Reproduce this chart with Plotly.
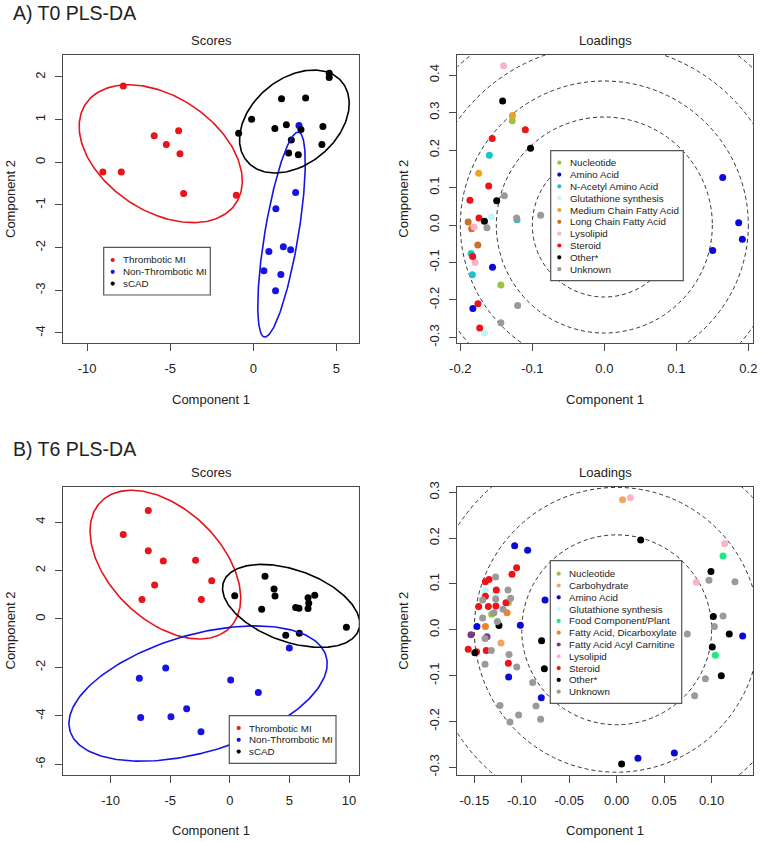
import numpy as np
import plotly.graph_objects as go

# ---------------- DATA ----------------
# Panel A (T0) scores
a_thr_x = [-7.82, -5.96, -4.49, -5.23, -4.41, -9.05, -7.94, -4.19, -1.02]
a_thr_y = [1.79, 0.62, 0.74, 0.42, 0.20, -0.23, -0.23, -0.73, -0.77]
a_non_x = [2.75, 2.55, 1.36, 0.94, 1.81, 2.25, 0.64, 1.66, 1.34]
a_non_y = [0.86, -0.71, -1.09, -2.09, -1.98, -2.05, -2.54, -2.63, -3.01]
a_scad_x = [4.57, 4.57, 1.70, 3.15, -0.10, -0.88, 1.30, 1.99, 2.87, 4.19, 2.29, 2.13, 2.71, 4.13]
a_scad_y = [2.09, 1.99, 1.49, 1.51, 1.01, 0.68, 0.79, 0.88, 0.77, 0.84, 0.52, 0.22, 0.18, 0.42]

# Panel B (T6) scores
b_thr_x = [-6.84, -8.94, -6.84, -5.58, -2.87, -1.52, -6.31, -7.37, -2.39]
b_thr_y = [4.48, 3.49, 2.82, 2.39, 2.42, 1.58, 1.40, 0.80, 0.80]
b_non_x = [4.99, -5.38, -7.59, 0.07, 2.39, -3.62, -7.48, -4.94, -2.42]
b_non_y = [-1.20, -2.02, -2.45, -2.52, -3.03, -3.71, -4.07, -4.04, -4.65]
b_scad_x = [2.95, 0.41, 3.71, 3.79, 2.67, 5.52, 5.80, 6.56, 6.62, 6.56, 7.12, 9.78, 4.69, 5.83]
b_scad_y = [1.76, 0.96, 1.24, 0.95, 0.40, 0.47, 0.44, 0.88, 0.65, 0.43, 0.98, -0.34, -0.67, -0.59]

group_names = ["Thrombotic MI", "Non-Thrombotic MI", "sCAD"]
group_colors = ["#E8141A", "#1414E6", "#000000"]

# Panel A (T0) loadings, by class
t0_nucleotide_x = [-0.1278, -0.1437]
t0_nucleotide_y = [0.278, -0.160]
t0_amino_x = [-0.1553, -0.1826, 0.1644, 0.1866, 0.1917, 0.1505]
t0_amino_y = [-0.113, -0.223, 0.127, 0.006, -0.038, -0.068]
t0_nacetyl_x = [-0.1597, -0.1213, -0.1850, -0.1833]
t0_nacetyl_y = [0.186, 0.014, -0.076, -0.133]
t0_gluta_x = [-0.1567, -0.1665]
t0_gluta_y = [0.022, -0.288]
t0_mcfa_x = [-0.1275, -0.1745]
t0_mcfa_y = [0.292, 0.138]
t0_lcfa_x = [-0.1891, -0.1843, -0.1757]
t0_lcfa_y = [0.008, -0.010, -0.053]
t0_lyso_x = [-0.1400, -0.1808, -0.1794]
t0_lyso_y = [0.425, -0.005, -0.100]
t0_steroid_x = [-0.1097, -0.1558, -0.1606, -0.1866, -0.1741, -0.1829, -0.1755, -0.1731]
t0_steroid_y = [0.254, 0.231, 0.104, 0.066, 0.019, -0.084, -0.210, -0.275]
t0_other_x = [-0.1412, -0.1025, -0.1495, -0.1665]
t0_other_y = [0.331, 0.205, 0.065, 0.010]
t0_unknown_x = [-0.1389, -0.0884, -0.1218, -0.1630, -0.1204, -0.1437]
t0_unknown_y = [0.078, 0.026, 0.019, -0.007, -0.215, -0.261]

# Panel B (T6) loadings, by class
t6_nucleotide_x = [-0.1141, -0.1317]
t6_nucleotide_y = [0.059, 0.034]
t6_carb_x = [0.0062, -0.1219]
t6_carb_y = [0.284, -0.029]
t6_amino_x = [-0.1075, -0.0938, -0.0755, -0.1015, -0.1472, -0.1138, -0.0794, 0.0224, 0.0607, 0.1327]
t6_amino_y = [0.1836, 0.1734, 0.065, 0.0097, 0.007, -0.103, -0.148, -0.280, -0.269, -0.0135]
t6_gluta_x = [-0.1383, -0.1274]
t6_gluta_y = [0.086, 0.081]
t6_food_x = [0.1120, 0.1039]
t6_food_y = [0.161, -0.0557]
t6_dicarb_x = [-0.1155, -0.1383]
t6_dicarb_y = [0.037, 0.007]
t6_acyl_x = [-0.1535, -0.1366]
t6_acyl_y = [-0.0106, -0.015]
t6_lyso_x = [0.0144, 0.1137, 0.0839]
t6_lyso_y = [0.288, 0.188, 0.1036]
t6_steroid_x = [-0.1054, -0.1103, -0.1345, -0.1383, -0.1268, -0.1383, -0.1166, -0.1272,
                -0.1352, -0.1454, -0.1564, -0.1476, -0.1374, -0.1141]
t6_steroid_y = [0.1356, 0.121, 0.110, 0.105, 0.087, 0.073, 0.059, 0.052,
                0.051, 0.051, -0.0425, -0.048, -0.045, -0.073]
t6_other_x = [0.0253, 0.0993, 0.1018, 0.1186, 0.1007, 0.1102, 0.0052, -0.1240, -0.0791, -0.0762, -0.1494]
t6_other_y = [0.196, 0.127, 0.029, -0.009, -0.0375, -0.100, -0.293, 0.0095, -0.024, -0.085, -0.050]
t6_unknown_x = [0.0972, 0.1246, 0.1120, 0.1028, 0.0744, 0.0934, 0.0821, -0.1275, -0.1145, -0.1117,
                -0.1275, -0.1412, -0.1197, -0.1293, -0.1412, -0.1257, -0.1387, -0.1321, -0.1387,
                -0.1134, -0.1053, -0.0885, -0.1229, -0.0850, -0.1033, -0.0801, -0.1124]
t6_unknown_y = [0.108, 0.105, 0.030, 0.007, -0.009, -0.1066, -0.1437, 0.115, 0.087, 0.069,
                0.067, 0.065, 0.045, 0.037, 0.026, 0.018, -0.019, -0.045, -0.075,
                -0.054, -0.081, -0.115, -0.165, -0.166, -0.186, -0.195, -0.201]

t0_circle_radii = [0.10, 0.15, 0.20, 0.25, 0.30]
t6_circle_radii = [0.10, 0.15, 0.20]

# tick labels
a_sc_xt = [-10, -5, 0, 5]
a_sc_yt = [-4, -3, -2, -1, 0, 1, 2]
a_ld_xt = [-0.2, -0.1, 0.0, 0.1, 0.2]
a_ld_yt = [-0.3, -0.2, -0.1, 0.0, 0.1, 0.2, 0.3, 0.4]
b_sc_xt = [-10, -5, 0, 5, 10]
b_sc_yt = [-6, -4, -2, 0, 2, 4]
b_ld_xt = [-0.15, -0.10, -0.05, 0.00, 0.05, 0.10]
b_ld_yt = [-0.3, -0.2, -0.1, 0.0, 0.1, 0.2, 0.3]

# ---------------- STYLE / LAYOUT ----------------
W, H = 762, 842
FONT = "Liberation Sans, Arial, sans-serif"
TXT = "#222222"
AXC = "#4a4a4a"

C = dict(nucleotide="#93C83E", carb="#F4A460", amino="#0A0AD8", nacetyl="#1EC4C8",
         gluta="#BFF6F6", food="#1EE882", mcfa="#EFA324", lcfa="#CC6E2A", dicarb="#EE8424",
         acyl="#7B3A88", lyso="#FAB4C4", steroid="#EC141A", other="#000000", unknown="#9A9A9A")

t0_classes = [
    ("Nucleotide", C["nucleotide"], t0_nucleotide_x, t0_nucleotide_y),
    ("Amino Acid", C["amino"], t0_amino_x, t0_amino_y),
    ("N-Acetyl Amino Acid", C["nacetyl"], t0_nacetyl_x, t0_nacetyl_y),
    ("Glutathione synthesis", C["gluta"], t0_gluta_x, t0_gluta_y),
    ("Medium Chain Fatty Acid", C["mcfa"], t0_mcfa_x, t0_mcfa_y),
    ("Long Chain Fatty Acid", C["lcfa"], t0_lcfa_x, t0_lcfa_y),
    ("Lysolipid", C["lyso"], t0_lyso_x, t0_lyso_y),
    ("Steroid", C["steroid"], t0_steroid_x, t0_steroid_y),
    ("Other*", C["other"], t0_other_x, t0_other_y),
    ("Unknown", C["unknown"], t0_unknown_x, t0_unknown_y),
]
t6_classes = [
    ("Nucleotide", C["nucleotide"], t6_nucleotide_x, t6_nucleotide_y),
    ("Carbohydrate", C["carb"], t6_carb_x, t6_carb_y),
    ("Amino Acid", C["amino"], t6_amino_x, t6_amino_y),
    ("Glutathione synthesis", C["gluta"], t6_gluta_x, t6_gluta_y),
    ("Food Component/Plant", C["food"], t6_food_x, t6_food_y),
    ("Fatty Acid, Dicarboxylate", C["dicarb"], t6_dicarb_x, t6_dicarb_y),
    ("Fatty Acid Acyl Carnitine", C["acyl"], t6_acyl_x, t6_acyl_y),
    ("Lysolipid", C["lyso"], t6_lyso_x, t6_lyso_y),
    ("Steroid", C["steroid"], t6_steroid_x, t6_steroid_y),
    ("Other*", C["other"], t6_other_x, t6_other_y),
    ("Unknown", C["unknown"], t6_unknown_x, t6_unknown_y),
]

# pixel boxes of each panel: (left, right, top, bottom)
BOX = {
    "A_sc": (63.3, 359.3, 55.0, 343.3),
    "A_ld": (457.3, 753.3, 55.0, 343.3),
    "B_sc": (63.3, 359.3, 486.7, 775.0),
    "B_ld": (457.3, 753.3, 486.7, 775.0),
}
RANGE = {
    "A_sc": ([-11.43, 6.38], [-4.242, 2.515]),
    "A_ld": ([-0.2042, 0.2069], [-0.3156, 0.4536]),
    "B_sc": ([-13.97, 10.86], [-6.44, 5.46]),
    "B_ld": ([-0.1679, 0.1439], [-0.3168, 0.3122]),
}
AX = {"A_sc": ("x", "y", ""), "A_ld": ("x2", "y2", "2"), "B_sc": ("x3", "y3", "3"), "B_ld": ("x4", "y4", "4")}


def px(xp):
    return xp / W


def py(yp):
    return 1 - yp / H


def fmt(v, d):
    return f"{v:.{d}f}"


fig = go.Figure()


def ellipse_xy(xs, ys, t, n=240):
    pts = np.column_stack([xs, ys])
    mu = pts.mean(axis=0)
    S = np.cov(pts.T)
    vals, vecs = np.linalg.eigh(S)
    th = np.linspace(0, 2 * np.pi, n)
    circ = np.vstack([np.cos(th), np.sin(th)])
    e = vecs @ (np.sqrt(vals)[:, None] * circ) * t + mu[:, None]
    return e[0], e[1]


def add_scores(key, groups, t):
    xa, ya, _ = AX[key]
    for (gx, gy), name, col in zip(groups, group_names, group_colors):
        fig.add_trace(go.Scatter(x=gx, y=gy, mode="markers", name=name, showlegend=False,
                                 marker=dict(color=col, size=7, line=dict(width=0)),
                                 xaxis=xa, yaxis=ya))
    for (gx, gy), name, col in zip(groups, group_names, group_colors):
        ex, ey = ellipse_xy(gx, gy, t)
        fig.add_trace(go.Scatter(x=ex, y=ey, mode="lines", showlegend=False, hoverinfo="skip",
                                 line=dict(color=col, width=1.6), xaxis=xa, yaxis=ya))


def add_loadings(key, classes):
    xa, ya, _ = AX[key]
    for name, col, lx, ly in classes:
        fig.add_trace(go.Scatter(x=lx, y=ly, mode="markers", name=name, showlegend=False,
                                 marker=dict(color=col, size=7, line=dict(width=0)),
                                 xaxis=xa, yaxis=ya))


add_scores("A_sc", [(a_thr_x, a_thr_y), (a_non_x, a_non_y), (a_scad_x, a_scad_y)], 2.0)
add_scores("B_sc", [(b_thr_x, b_thr_y), (b_non_x, b_non_y), (b_scad_x, b_scad_y)], 2.48)
add_loadings("A_ld", t0_classes)
add_loadings("B_ld", t6_classes)

shapes = []
annotations = []

# dashed circles (drawn round on screen, radius in x units)
for key, radii in (("A_ld", t0_circle_radii), ("B_ld", t6_circle_radii)):
    xa, ya, _ = AX[key]
    l, r, t_, b = BOX[key]
    xr = RANGE[key][0]
    ppu = (r - l) / (xr[1] - xr[0])
    for rad in radii:
        rp = rad * ppu
        shapes.append(dict(type="circle", xref=xa, yref=ya, layer="below",
                           x0=-rad, x1=rad, ysizemode="pixel", yanchor=0, y0=-rp, y1=rp,
                           line=dict(color="#333333", width=1, dash="4px,3px"),
                           fillcolor="rgba(0,0,0,0)"))


def add_legend(box, dot_x, text_x, y0, dy, items):
    l, r, t_, b = box
    shapes.append(dict(type="rect", xref="paper", yref="paper", layer="above",
                       x0=px(l), x1=px(r), y0=py(b), y1=py(t_),
                       line=dict(color="#555555", width=1.2), fillcolor="white"))
    for i, (name, col) in enumerate(items):
        yy = y0 + i * dy
        shapes.append(dict(type="circle", xref="paper", yref="paper", layer="above",
                           xsizemode="pixel", ysizemode="pixel",
                           xanchor=px(dot_x), yanchor=py(yy), x0=-2.1, x1=2.1, y0=-2.1, y1=2.1,
                           line=dict(width=0), fillcolor=col))
        annotations.append(dict(text=name, xref="paper", yref="paper", x=px(text_x), y=py(yy),
                                xanchor="left", yanchor="middle", showarrow=False,
                                font=dict(family=FONT, size=9.8, color=TXT)))


grp_items = list(zip(group_names, group_colors))
add_legend((103.7, 210.3, 247.3, 295.0), 112.7, 121.0, 260.0, 11.8, grp_items)
add_legend((229.3, 336.0, 715.7, 763.3), 238.7, 247.0, 728.0, 11.8, grp_items)
add_legend((550.7, 683.3, 150.7, 280.7), 559.3, 567.7, 162.7, 11.83, [(n, c) for n, c, _, _ in t0_classes])
add_legend((550.3, 681.7, 560.7, 703.3), 558.7, 567.0, 573.7, 11.8, [(n, c) for n, c, _, _ in t6_classes])


def ann(text, x, y, size, xanchor="center", angle=0):
    annotations.append(dict(text=text, xref="paper", yref="paper", x=px(x), y=py(y),
                            xanchor=xanchor, yanchor="middle", showarrow=False, textangle=angle,
                            font=dict(family=FONT, size=size, color=TXT)))


ann("A) T0 PLS-DA", 10.5, 13.0, 19.5, xanchor="left")
ann("B) T6 PLS-DA", 10.5, 449.5, 19.5, xanchor="left")
ann("Scores", 211.3, 40.5, 13)
ann("Loadings", 605.3, 40.5, 13)
ann("Scores", 211.3, 472.0, 13)
ann("Loadings", 605.3, 472.0, 13)
ann("Component 1", 211.3, 399.0, 13)
ann("Component 1", 605.3, 399.0, 13)
ann("Component 1", 211.3, 830.5, 13)
ann("Component 1", 605.3, 830.5, 13)
ann("Component 2", 10.0, 199.0, 13, angle=-90)
ann("Component 2", 402.7, 199.0, 13, angle=-90)
ann("Component 2", 9.5, 631.0, 13, angle=-90)
ann("Component 2", 402.7, 631.0, 13, angle=-90)

ticks = {
    "A_sc": (a_sc_xt, 0, a_sc_yt, 0),
    "A_ld": (a_ld_xt, 1, a_ld_yt, 1),
    "B_sc": (b_sc_xt, 0, b_sc_yt, 0),
    "B_ld": (b_ld_xt, 2, b_ld_yt, 1),
}

layout_axes = {}
for key, (xa, ya, sfx) in AX.items():
    l, r, t_, b = BOX[key]
    xr, yr = RANGE[key]
    xt, xd, yt, yd = ticks[key]
    common = dict(showline=True, mirror=True, linecolor=AXC, linewidth=1.1,
                  ticks="outside", ticklen=7, tickwidth=1, tickcolor=AXC,
                  showgrid=False, zeroline=False, automargin=False, fixedrange=True,
                  tickfont=dict(family=FONT, size=13, color=TXT))
    layout_axes["xaxis" + sfx] = dict(common, domain=[px(l), px(r)], range=xr,
                                      anchor=ya, tickvals=xt, ticktext=[fmt(v, xd) for v in xt],
                                      ticklabelstandoff=6)
    layout_axes["yaxis" + sfx] = dict(common, domain=[py(b), py(t_)], range=yr,
                                      anchor=xa, tickvals=yt, ticktext=[fmt(v, yd) for v in yt],
                                      tickangle=-90, ticklabelstandoff=5)

fig.update_layout(width=W, height=H, margin=dict(l=0, r=0, t=0, b=0),
                  paper_bgcolor="white", plot_bgcolor="white", showlegend=False,
                  shapes=shapes, annotations=annotations, **layout_axes)

# remove the default page margin so the 762x842 figure fills the window exactly
fig.write_html("out.html", config={"displayModeBar": False},
               post_script="document.body.style.margin='0';document.body.style.overflow='hidden';")
